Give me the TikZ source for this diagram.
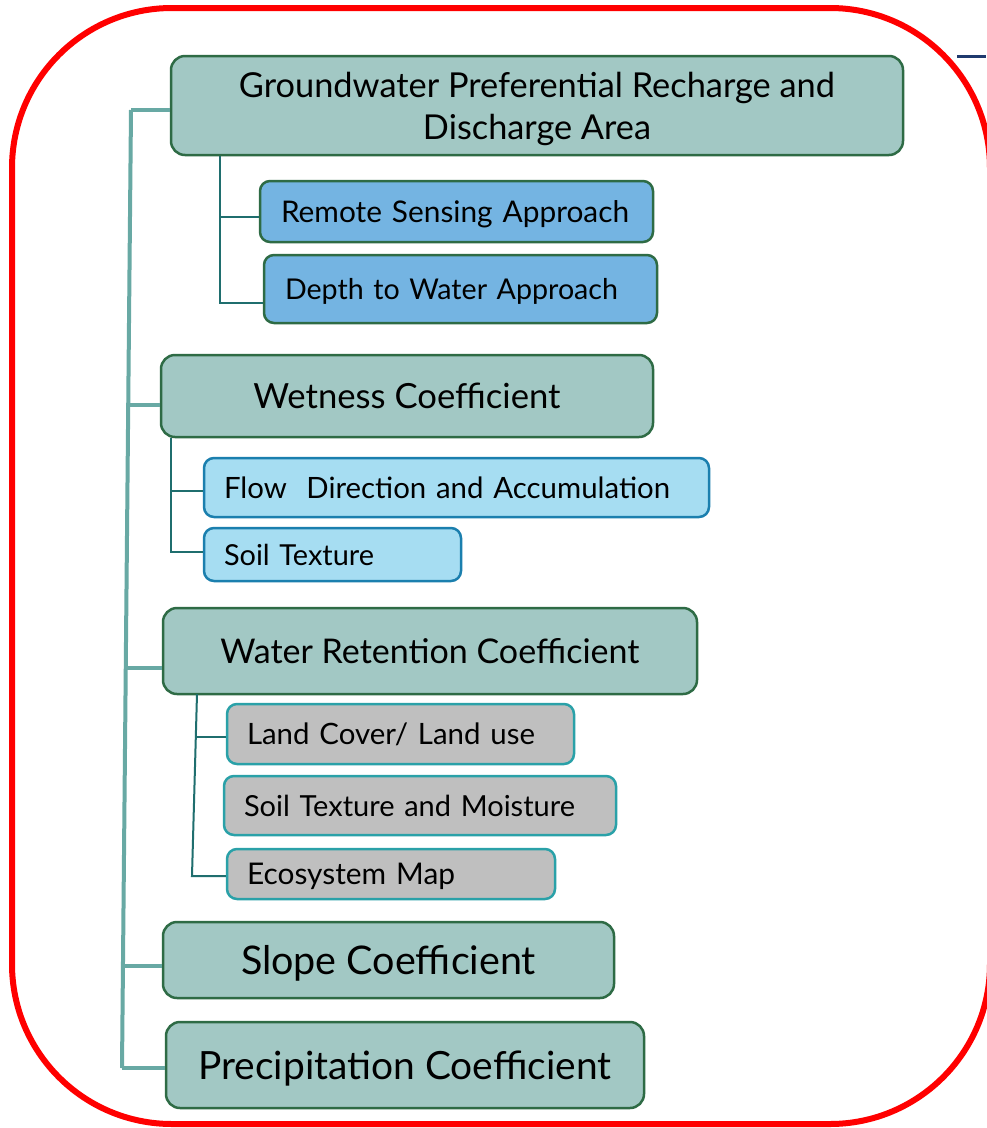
\documentclass[tikz,border=0pt]{standalone}
\usepackage{fontspec}
\setmainfont{Lato}
\usepackage{graphicx}
\newcommand\fitto[2]{\resizebox{#1}{!}{#2}}
\definecolor{mainfill}{HTML}{A2C8C4}
\definecolor{maingreen}{HTML}{2E6B45}
\definecolor{bluefill}{HTML}{74B4E2}
\definecolor{lbluefill}{HTML}{A6DDF2}
\definecolor{lblueborder}{HTML}{1B7FAE}
\definecolor{grayfill}{HTML}{BFBFBF}
\definecolor{grayborder}{HTML}{2AA1A8}
\definecolor{trunkcol}{HTML}{68A9A4}
\definecolor{subcol}{HTML}{1F6E6E}
\definecolor{navycol}{HTML}{1F3A6E}
\begin{document}
\begin{tikzpicture}[x=1pt,y=-1pt,
  font=\fontsize{20}{24}\selectfont,
  mainbox/.style={draw=maingreen, line width=2.5pt, fill=mainfill, rounded corners=14pt, inner sep=0pt, text depth=0pt},
  subbase/.style={line width=2.5pt, rounded corners=10pt, inner ysep=0pt, text depth=0pt, align=left},
  bluebox/.style={subbase, draw=maingreen, fill=bluefill},
  lbluebox/.style={subbase, draw=lblueborder, fill=lbluefill},
  graybox/.style={subbase, draw=grayborder, fill=grayfill},
  trunk/.style={draw=trunkcol, line width=4pt},
  subline/.style={draw=subcol, line width=2pt}]
\useasboundingbox (0,0) rectangle (986,1128);
\fill[white] (0,0) rectangle (986,1128);

% nodes
\node[mainbox, minimum width=732pt, minimum height=99pt, align=center, font=\fontsize{20}{42}\selectfont] (g1) at (537,105.5) {\fitto{596pt}{Groundwater Preferential Recharge and}\\\fitto{228pt}{Discharge Area}};
\node[bluebox, minimum height=61pt, text width=351pt, inner xsep=21pt] (rs) at (456.5,211.5) {\fitto{348pt}{Remote Sensing Approach}};
\node[bluebox, minimum height=68pt, text width=351pt, inner xsep=21pt] (dw) at (460.5,289) {\fitto{333pt}{Depth to Water Approach}};
\node[mainbox, minimum width=492pt, minimum height=82pt] (wc) at (407,396) {\fitto{307pt}{Wetness Coefficient}};
\node[lbluebox, minimum height=59pt, text width=465pt, inner xsep=20pt] (fd) at (456.5,487.5) {\fitto{446pt}{Flow\ \ Direction and Accumulation}};
\node[lbluebox, minimum height=53pt, text width=217pt, inner xsep=20pt] (st) at (332.5,554.5) {\fitto{150pt}{Soil Texture}};
\node[mainbox, minimum width=534pt, minimum height=86pt] (wr) at (430,651) {\fitto{419pt}{Water Retention Coefficient}};
\node[graybox, minimum height=60pt, text width=307pt, inner xsep=20pt] (lc) at (400.5,734) {\fitto{288pt}{Land Cover/ Land use}};
\node[graybox, minimum height=59pt, text width=352pt, inner xsep=20pt] (sm) at (420,805.5) {\fitto{331pt}{Soil Texture and Moisture}};
\node[graybox, minimum height=50pt, text width=288pt, inner xsep=20pt] (em) at (391,874) {\fitto{208pt}{Ecosystem Map}};
\node[mainbox, minimum width=451pt, minimum height=76pt] (sc) at (388.5,960) {\fitto{295pt}{Slope Coefficient}};
\node[mainbox, minimum width=478pt, minimum height=86pt] (pc) at (405,1065) {\fitto{413pt}{Precipitation Coefficient}};

% trunk
\coordinate (b1) at (131,110);
\coordinate (b2) at (128.2,405);
\coordinate (b3) at (125.8,668);
\coordinate (b4) at (123,966);
\coordinate (b5) at (122,1068);
\draw[trunk] (b1) -- (b5);
\draw[trunk] (b1) -- (b1 -| g1.west);
\draw[trunk] (b2) -- (b2 -| wc.west);
\draw[trunk] (b3) -- (b3 -| wr.west);
\draw[trunk] (b4) -- (b4 -| sc.west);
\draw[trunk] (b5) -- (b5 -| pc.west);

% sub connectors
\coordinate (e1) at (220,217);
\coordinate (e2) at (220,303);
\draw[subline] (e1 |- g1.south) -- (e2) -- (e2 -| dw.west);
\draw[subline] (e1) -- (e1 -| rs.west);
\coordinate (e3) at (171,491);
\coordinate (e4) at (171,552);
\draw[subline] (e3 |- wc.south) -- (e4) -- (e4 -| st.west);
\draw[subline] (e3) -- (e3 -| fd.west);
\coordinate (e5t) at (197,694);
\coordinate (e5) at (195.2,737);
\coordinate (e6) at (192,876);
\draw[subline] (e5t) -- (e6) -- (e6 -| em.west);
\draw[subline] (e5) -- (e5 -| lc.west);

% frame
\draw[red, line width=6pt, rounded corners=160pt] (12,8) rectangle (990,1124);
\coordinate (n1) at (957,56);
\coordinate (n2) at (986,56);
\draw[navycol, line width=3pt] (n1) -- (n2);
\end{tikzpicture}
\end{document}
